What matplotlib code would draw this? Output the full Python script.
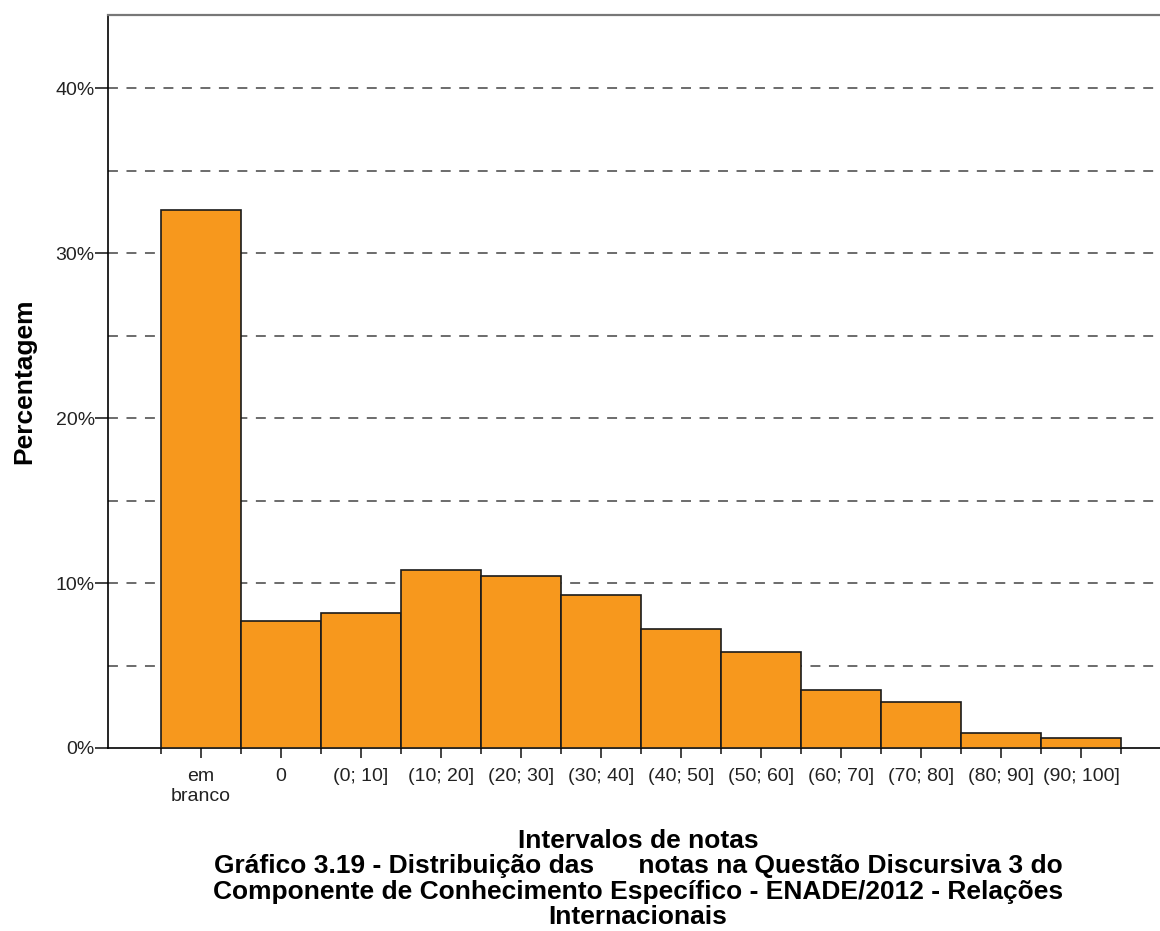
import matplotlib.pyplot as plt
from matplotlib.ticker import FixedLocator, FuncFormatter

plt.rcParams['font.family'] = ['Liberation Sans', 'DejaVu Sans']

# intervals and share of answers (%)
categories = ['em\nbranco', '0', '(0; 10]', '(10; 20]', '(20; 30]', '(30; 40]',
              '(40; 50]', '(50; 60]', '(60; 70]', '(70; 80]', '(80; 90]', '(90; 100]']
percent = [32.6, 7.7, 8.2, 10.8, 10.4, 9.3, 7.2, 5.8, 3.5, 2.8, 0.9, 0.6]

title_lines = ['Intervalos de notas',
               'Gráfico 3.19 - Distribuição das      notas na Questão Discursiva 3 do',
               'Componente de Conhecimento Específico - ENADE/2012 - Relações',
               'Internacionais']


def main():
    fig = plt.figure(figsize=(11.6, 9.31), dpi=100)
    ax = fig.add_axes([108 / 1160, 1 - 748 / 931, 1 - 108 / 1160, (748 - 15) / 931])

    pos = list(range(len(categories)))
    ax.bar(pos, percent, width=1.0, color='#F7981D', edgecolor='#1a1a1a',
           linewidth=1.2, zorder=3)

    ax.set_xlim(-0.5 - 53 / 80, -0.5 + 999 / 80)
    ax.set_ylim(0, 44.45)

    # dashed reference lines every 5%
    for y in [5, 10, 15, 20, 25, 30, 35, 40]:
        ax.axhline(y, color='#444444', linewidth=1.1, linestyle=(0, (6.5, 5.6)), zorder=1)

    ax.yaxis.set_major_locator(FixedLocator([0, 10, 20, 30, 40]))
    ax.yaxis.set_major_formatter(FuncFormatter(lambda v, p: '%d%%' % v))
    ax.tick_params(axis='y', length=9.5, width=1.2, labelsize=14, color='#222222',
                   labelcolor='#222222', pad=0)

    ax.set_xticks(pos)
    ax.set_xticklabels(categories, fontsize=14, color='#222222', linespacing=1.2)
    ax.set_xticks([p - 0.5 for p in pos] + [len(pos) - 0.5], minor=True)
    ax.tick_params(axis='x', which='major', length=7.5, width=1.2, pad=7, color='#222222')
    ax.tick_params(axis='x', which='minor', length=4.5, width=1.2, color='#222222')

    ax.spines['right'].set_visible(False)
    ax.spines['top'].set_color('#777777')
    ax.spines['top'].set_linewidth(1.6)
    ax.spines['left'].set_linewidth(1.2)
    ax.spines['bottom'].set_linewidth(1.2)

    ax.set_ylabel('Percentagem', fontsize=19, fontweight='bold', labelpad=14)

    fig.text(638 / 1160, 1 - 829 / 931, '\n'.join(title_lines), ha='center', va='top',
             fontsize=19, fontweight='bold', linespacing=1.07)

    fig.savefig('out.png', dpi=100)


if __name__ == '__main__':
    main()
